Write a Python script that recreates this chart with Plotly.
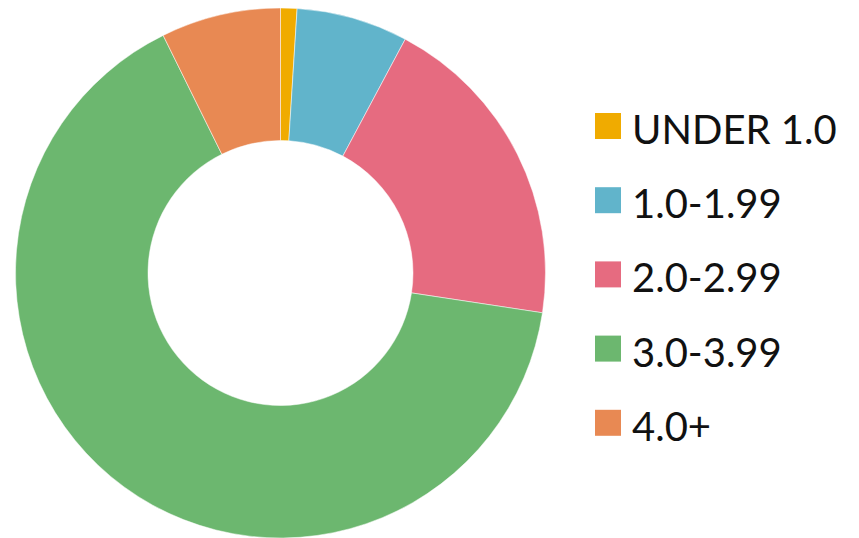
import plotly.graph_objects as go

# GPA bands and their share of students (%)
categories = ["UNDER 1.0", "1.0-1.99", "2.0-2.99", "3.0-3.99", "4.0+"]
shares = [1.0, 6.8, 19.6, 65.3, 7.3]
colors = ["#F0AB00", "#61B4CB", "#E66B80", "#6CB76F", "#E88953"]

W, H = 859, 538
MT = 8  # top margin in px; plot area spans MT..H vertically

fig = go.Figure(
    go.Pie(
        labels=categories,
        values=shares,
        hole=0.5,
        sort=False,
        direction="clockwise",
        rotation=0,
        textinfo="none",
        hoverinfo="label+percent",
        marker=dict(colors=colors, line=dict(color="white", width=0.5)),
        domain=dict(x=[0, 561 / W], y=[0, 1]),
        showlegend=False,
    )
)

# Custom legend: large colour swatches with labels on the right
sw_left, sw_size = 595, 26
text_left = 630
first_cy, step = 126, 74.2


def px_x(x):
    return x / W


def px_y(y):
    return (H - y) / (H - MT)


for i, (name, col) in enumerate(zip(categories, colors)):
    cy = first_cy + i * step
    fig.add_shape(
        type="rect",
        xref="paper", yref="paper",
        x0=px_x(sw_left), x1=px_x(sw_left + sw_size),
        y0=px_y(cy + sw_size / 2), y1=px_y(cy - sw_size / 2),
        fillcolor=col, line=dict(width=0),
    )
    fig.add_annotation(
        xref="paper", yref="paper",
        x=px_x(text_left), y=px_y(cy + 3),
        xanchor="left", yanchor="middle",
        text=name, showarrow=False,
        font=dict(family="Lato", size=40, color="#111111"),
    )

fig.update_layout(
    width=W, height=H,
    margin=dict(l=0, r=0, t=MT, b=0),
    paper_bgcolor="white",
    plot_bgcolor="white",
)

fig.write_html("out.html")
